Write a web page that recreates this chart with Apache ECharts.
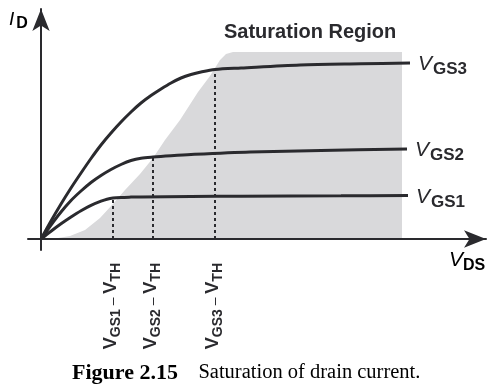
<!DOCTYPE html>
<html><head><meta charset="utf-8">
<script src="https://cdn.jsdelivr.net/npm/echarts@6/dist/echarts.min.js"></script>
<style>html,body{margin:0;padding:0;background:#fff}#c{width:492px;height:387px}</style>
</head><body><div id="c"></div>
<script>
// V_DS (x) and I_D (y) values (arbitrary units)
const satRegion = [[0,0],[14,0.5],[29,3],[44,9],[59,21],[71,34],[84,49],[99,65],[112,81],[124,99],[139,119],[157,147],[169,163],[179,179],[185,185],[192,187],[361,187],[361,0]];
const vgs1 = [[0,0],[10,7.8],[20,15.2],[30,22],[40,28.3],[50,33.6],[60,37.8],[66,39.8],[72,41],[80,41.6],[90,41.9],[100,42.1],[150,42.5],[200,42.8],[300,43.2],[367,43.6]];
const vgs2 = [[0,0],[10,14],[20,27],[30,38.5],[40,48],[50,56.5],[60,63.5],[70,69.5],[80,74.5],[90,78.5],[100,80.8],[112,82],[130,83.3],[150,84.5],[209,87],[280,88.5],[366,90]];
const vgs3 = [[0,0],[10,18],[20,35],[30,51],[40,66],[50,80.5],[60,94],[70,106],[80,117],[90,127],[100,136],[110,143.5],[120,150],[130,156],[140,161],[150,164.5],[160,167],[174,169.5],[200,171],[259,174],[320,175.2],[369,176]];
const curveNames = ['GS1','GS2','GS3'];
const overdrive = [72,112,174];       // V_GS - V_TH positions
const kneeCurrent = [41,82,169.5];    // I_D at those positions
const overdriveLabels = ['GS1','GS2','GS3'];

const ink = '#2a2a2e';
const sans = 'Liberation Sans';
const chart = echarts.init(document.getElementById('c'));

const curves = [vgs1, vgs2, vgs3].map((d, i) => ({
  type: 'line', data: d, smooth: 0.3, symbol: 'none', z: 5,
  lineStyle: {color: ink, width: 3},
  endLabel: {
    show: true, distance: 8, offset: [0, 3],
    formatter: '{v|V}{s|' + curveNames[i] + '}',
    rich: {
      v: {fontFamily: sans, fontStyle: 'italic', fontSize: 21, color: ink, verticalAlign: 'bottom', padding: [0,1,3,0]},
      s: {fontFamily: sans, fontWeight: 'bold', fontSize: 17, color: ink, verticalAlign: 'bottom'}
    }
  }
}));

const dashes = overdrive.map((x, i) => ({
  type: 'line', data: [[x, 0], [x, kneeCurrent[i]]], symbol: 'none', z: 4,
  lineStyle: {color: ink, width: 2, type: [3, 3]}
}));

const ovMap = {};
overdrive.forEach((x, i) => ovMap[x] = overdriveLabels[i]);

chart.setOption({
  animation: false,
  grid: {left: 28, right: 6, top: 9, bottom: 137},
  xAxis: {
    type: 'value', min: -13, max: 445, z: 6,
    axisLine: {show: true, onZero: true, symbol: ['none', 'arrow'], symbolSize: [13, 22],
      lineStyle: {color: ink, width: 2}},
    axisTick: {show: false}, splitLine: {show: false},
    axisLabel: {
      show: true, customValues: overdrive, rotate: 90, margin: 13,
      formatter: v => '{v|V}{s|' + ovMap[v] + '}{m| – }{v|V}{s|TH}',
      rich: {
        v: {fontFamily: sans, fontWeight: 'bold', fontSize: 18, color: ink, verticalAlign: 'bottom', padding: [0,0,3,0]},
        s: {fontFamily: sans, fontWeight: 'bold', fontSize: 14, color: ink, verticalAlign: 'bottom'},
        m: {fontFamily: sans, fontSize: 14, color: ink, verticalAlign: 'bottom', padding: [0,0,3,0]}
      }
    }
  },
  yAxis: {
    type: 'value', min: -11, max: 230, z: 6,
    axisLine: {show: true, onZero: true, symbol: ['none', 'arrow'], symbolSize: [13, 22],
      lineStyle: {color: ink, width: 2}},
    axisTick: {show: false}, splitLine: {show: false}, axisLabel: {show: false}
  },
  series: [
    {type: 'line', data: satRegion, symbol: 'none', z: 1, silent: true,
     lineStyle: {width: 0}, areaStyle: {color: '#d9d9db', opacity: 1}},
    ...dashes,
    ...curves
  ],
  graphic: [
    {type: 'text', x: 224, y: 32, style: {text: 'Saturation Region', fontFamily: sans, fontWeight: 'bold', fontSize: 20, fill: ink, textVerticalAlign: 'middle'}},
    {type: 'text', x: 9, y: 21, style: {text: '{v|I}{s|D}', verticalAlign: 'middle',
      rich: {v: {fontFamily: sans, fontStyle: 'italic', fontSize: 19, color: ink, verticalAlign: 'bottom', padding: [0,2,3,0]},
             s: {fontFamily: sans, fontWeight: 'bold', fontSize: 16, color: ink, verticalAlign: 'bottom'}}}},
    {type: 'text', x: 449, y: 262, style: {text: '{v|V}{s|DS}', verticalAlign: 'middle',
      rich: {v: {fontFamily: sans, fontStyle: 'italic', fontSize: 21, color: ink, verticalAlign: 'bottom', padding: [0,0,3,0]},
             s: {fontFamily: sans, fontWeight: 'bold', fontSize: 16, color: ink, verticalAlign: 'bottom'}}}},
    {type: 'text', x: 72, y: 373, style: {text: '{b|Figure 2.15}{r|    Saturation of drain current.}', verticalAlign: 'middle',
      rich: {b: {fontFamily: 'Liberation Serif', fontWeight: 'bold', fontSize: 22, color: '#222'},
             r: {fontFamily: 'Liberation Serif', fontSize: 20.5, color: '#222'}}}}
  ]
});
</script></body></html>
